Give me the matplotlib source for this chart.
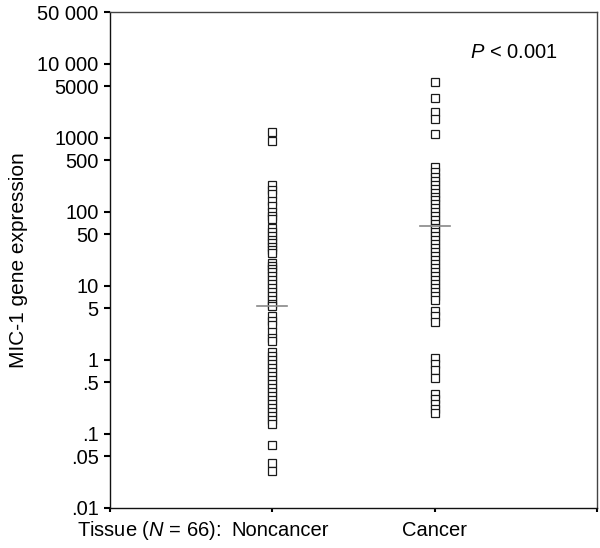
import matplotlib
matplotlib.use("Agg")
import matplotlib.pyplot as plt
import matplotlib.transforms as mtransforms

plt.rcParams['font.family'] = ['Liberation Sans', 'DejaVu Sans']
plt.rcParams['mathtext.fontset'] = 'custom'
plt.rcParams['mathtext.rm'] = 'Liberation Sans'
plt.rcParams['mathtext.it'] = 'Liberation Sans:italic'

# MIC-1 expression
noncancer = [1200, 900,
             230, 200, 175,
             140, 120, 100, 88, 80,
             61, 54, 47, 42, 38, 34, 31, 28,
             20.5, 18.6, 17, 15.5, 13.7, 12, 10.6, 9.4, 8.3, 7.3, 6.4, 5.7,
             5.4,
             3.9, 3.4, 3.0,
             2.4, 2.0, 1.8,
             1.28, 1.13, 1.0, 0.88, 0.78, 0.69, 0.61, 0.54, 0.47, 0.42,
             0.37, 0.33, 0.29, 0.255, 0.225, 0.2, 0.175, 0.155, 0.137,
             0.071,
             0.041, 0.032]
cancer = [5700, 3500, 2250, 1800, 1130,
          405, 350, 297, 263, 230, 204, 181, 160, 145, 129, 114, 100,
          88, 78, 69, 61, 54, 47, 42, 37, 32.6, 29, 25.6, 22.6, 20,
          17.6, 15.5, 13.7, 12, 10.6, 9.4, 8.3, 7.3, 6.5,
          4.6, 3.9, 3.3,
          1.07, 0.89, 0.73, 0.57,
          0.35, 0.30, 0.255, 0.22, 0.19]
groups = ['Noncancer', 'Cancer']
group_values = [noncancer, cancer]
median_values = [5.4, 65]

ytick_values = [0.01, 0.05, 0.1, 0.5, 1, 5, 10, 50, 100, 500, 1000, 5000, 10000, 50000]
ytick_labels = ['.01', '.05', '.1', '.5', '1', '5', '10', '50', '100', '500',
                '1000', '5000', '10 000', '50 000']

fig = plt.figure(figsize=(6.0, 5.48), dpi=100)
ax = fig.add_axes([0.183, 0.073, 0.812, 0.905])

for i, vals in enumerate(group_values):
    xpos = i + 1
    ax.plot([xpos] * len(vals), vals, linestyle='none', marker='s',
            markersize=6.0, markerfacecolor='white', markeredgecolor='#1a1a1a',
            markeredgewidth=0.9, zorder=3)
    ax.plot([xpos - 0.092, xpos + 0.092], [median_values[i]] * 2,
            color='#888888', linewidth=1.2, zorder=4)

ax.set_yscale('log')
ax.set_ylim(0.01, 50000)
ax.set_xlim(0, 3)
ax.set_yticks(ytick_values)
ax.set_yticklabels(ytick_labels)
ax.minorticks_off()
ax.set_xticks([0, 1, 2, 3])
ax.set_xticklabels([])

ax.tick_params(axis='y', direction='out', length=4, width=1.5, labelsize=14.5, pad=4)
ax.tick_params(axis='x', direction='out', length=3, width=1.5)

for side in ['left', 'bottom']:
    ax.spines[side].set_color('#111111')
    ax.spines[side].set_linewidth(1.0)
for side in ['top', 'right']:
    ax.spines[side].set_color('#444444')
    ax.spines[side].set_linewidth(1.0)

ax.set_ylabel('MIC-1 gene expression', fontsize=15, labelpad=7)

# category labels under the axis
trans = mtransforms.blended_transform_factory(ax.transData, ax.transAxes)
ax.text(1.05, -0.045, groups[0], transform=trans, ha='center', va='center', fontsize=14.5)
ax.text(2.0, -0.045, groups[1], transform=trans, ha='center', va='center', fontsize=14.5)
ax.text(0.227, -0.045, r'Tissue ($\it{N}$ = 66):', transform=ax.transAxes,
        ha='right', va='center', fontsize=14.5)
ax.text(0.92, 0.919, r'$\it{P}$ < 0.001', transform=ax.transAxes,
        ha='right', va='center', fontsize=14.5)

plt.savefig('out.png', dpi=100)
